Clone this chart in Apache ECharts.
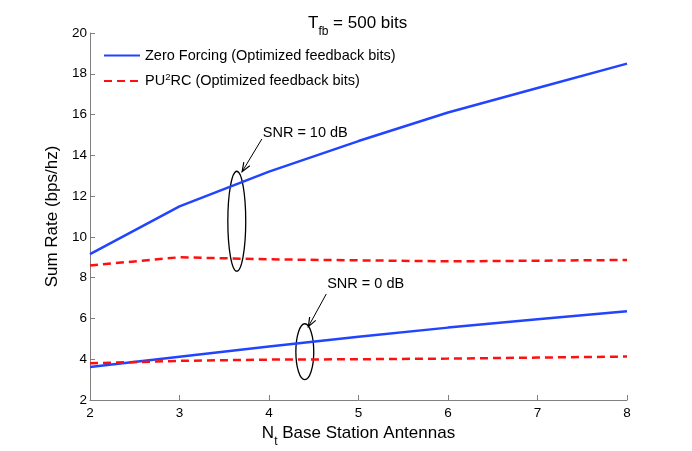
<!DOCTYPE html>
<html lang="en">
<head>
<meta charset="UTF-8">
<script src="https://cdn.jsdelivr.net/npm/echarts@6/dist/echarts.min.js"></script>
<title>Sum Rate</title>
<style>
  *{margin:0;padding:0}
  html,body{width:100%;height:100%;background:#fff}
  #main{width:692px;height:451px}
</style>
</head>
<body>
<div id="main"></div>
<script type="text/javascript">
// data
var antennas = [2, 3, 4, 5, 6, 7, 8];
var zf10 = [9.15, 11.5, 13.2, 14.7, 16.1, 17.3, 18.5];
var pu10 = [8.6, 9.0, 8.9, 8.85, 8.8, 8.83, 8.87];
var zf0 = [3.62, 4.12, 4.62, 5.1, 5.55, 5.96, 6.35];
var pu0 = [3.8, 3.92, 3.98, 4.0, 4.03, 4.08, 4.13];
var zfName = 'Zero Forcing (Optimized feedback bits)';
var puName = 'PU2RC (Optimized feedback bits)';

var FONT = 'Liberation Sans';
var BLUE = '#2244ff';
var RED = '#ff1010';

function pairs(ys) {
  var out = [];
  for (var i = 0; i < antennas.length; i++) out.push([antennas[i], ys[i]]);
  return out;
}
function lineSeries(name, ys, color, dashed) {
  return {
    name: name, type: 'line', data: pairs(ys), symbol: 'none', silent: true,
    lineStyle: {color: color, width: 2.5, type: dashed ? [8, 5] : 'solid'},
    itemStyle: {color: color}
  };
}

var myChart = echarts.init(document.getElementById('main'));
var axisGrey = '#808080';
var option = {
  animation: false,
  backgroundColor: '#fff',
  title: {
    text: '{a|T}{s|fb}{a| = 500 bits}',
    left: 303, top: 3,
    textStyle: {
      rich: {
        a: {fontFamily: FONT, fontSize: 17, fontWeight: 'normal', color: '#000'},
        s: {fontFamily: FONT, fontSize: 12, fontWeight: 'normal', color: '#000', padding: [18, 0, 0, 0]}
      }
    }
  },
  legend: {
    orient: 'vertical', left: 103, top: 48, padding: 0,
    itemWidth: 36, itemHeight: 14, itemGap: 9,
    itemStyle: {opacity: 0},
    data: [zfName, puName],
    formatter: function (n) {
      return n === puName ? '{t|PU}{p|2}{t|RC (Optimized feedback bits)}' : '{t|' + n + '}';
    },
    textStyle: {
      rich: {
        t: {fontFamily: FONT, fontSize: 14.5, color: '#000'},
        p: {fontFamily: FONT, fontSize: 9.5, color: '#000', padding: [0, 0, 8, 0]}
      }
    }
  },
  grid: {left: 90, right: 65, top: 33, bottom: 51, outerBoundsMode: 'none', containLabel: false},
  xAxis: {
    type: 'value', min: 2, max: 8, interval: 1,
    name: '{t|N}{s|t}{t| Base Station Antennas}',
    nameLocation: 'middle', nameGap: 14,
    nameTextStyle: {
      rich: {
        t: {fontFamily: FONT, fontSize: 17, color: '#000'},
        s: {fontFamily: FONT, fontSize: 12, color: '#000', padding: [16, 0, 0, 0]}
      }
    },
    axisLine: {lineStyle: {color: axisGrey, width: 1}},
    axisTick: {inside: true, length: 5, lineStyle: {color: axisGrey}},
    axisLabel: {fontFamily: FONT, fontSize: 13.5, color: '#000', margin: 6},
    splitLine: {show: false}
  },
  yAxis: {
    type: 'value', min: 2, max: 20, interval: 2,
    name: 'Sum Rate (bps/hz)', nameLocation: 'middle', nameGap: 25,
    nameTextStyle: {fontFamily: FONT, fontSize: 17, color: '#000'},
    axisLine: {lineStyle: {color: axisGrey, width: 1}},
    axisTick: {inside: true, length: 5, lineStyle: {color: axisGrey}},
    axisLabel: {fontFamily: FONT, fontSize: 13.5, color: '#000', margin: 3},
    splitLine: {show: false}
  },
  series: [
    lineSeries(zfName, zf10, BLUE, false),
    lineSeries(puName, pu10, RED, true),
    lineSeries(zfName, zf0, BLUE, false),
    lineSeries(puName, pu0, RED, true)
  ]
};
myChart.setOption(option);

// annotations: ellipse centre / half sizes in data units, arrow from text to ellipse top
var notes = [
  {label: 'SNR = 10 dB', cx: 3.64, cy: 10.77, rx: 0.1, ry: 2.45, tx: 3.93, ty: 15.1, from: [3.92, 14.8], to: [3.70, 13.2]},
  {label: 'SNR = 0 dB', cx: 4.40, cy: 4.37, rx: 0.1, ry: 1.37, tx: 4.65, ty: 7.7, from: [4.64, 7.2], to: [4.44, 5.6]}
];
var gfx = [];
notes.forEach(function (n) {
  var c = myChart.convertToPixel({gridIndex: 0}, [n.cx, n.cy]);
  var e = myChart.convertToPixel({gridIndex: 0}, [n.cx + n.rx, n.cy + n.ry]);
  gfx.push({type: 'ellipse', silent: true,
    shape: {cx: c[0], cy: c[1], rx: e[0] - c[0], ry: c[1] - e[1]},
    style: {fill: 'none', stroke: '#000', lineWidth: 1.3}});
  var t = myChart.convertToPixel({gridIndex: 0}, [n.tx, n.ty]);
  gfx.push({type: 'text', silent: true, x: t[0], y: t[1],
    style: {text: n.label, font: '14.5px "' + FONT + '"', fill: '#000', verticalAlign: 'middle'}});
  var a = myChart.convertToPixel({gridIndex: 0}, n.from);
  var b = myChart.convertToPixel({gridIndex: 0}, n.to);
  var dx = b[0] - a[0], dy = b[1] - a[1], L = Math.sqrt(dx * dx + dy * dy);
  var ux = dx / L, uy = dy / L, hl = 9, hw = 3.5;
  gfx.push({type: 'line', silent: true, shape: {x1: a[0], y1: a[1], x2: b[0], y2: b[1]},
    style: {stroke: '#000', lineWidth: 1}});
  gfx.push({type: 'polyline', silent: true,
    shape: {points: [
      [b[0] - ux * hl - uy * hw, b[1] - uy * hl + ux * hw],
      [b[0], b[1]],
      [b[0] - ux * hl + uy * hw, b[1] - uy * hl - ux * hw]]},
    style: {stroke: '#000', lineWidth: 1.2, fill: 'none'}});
});
myChart.setOption({graphic: gfx});
</script>
</body>
</html>
